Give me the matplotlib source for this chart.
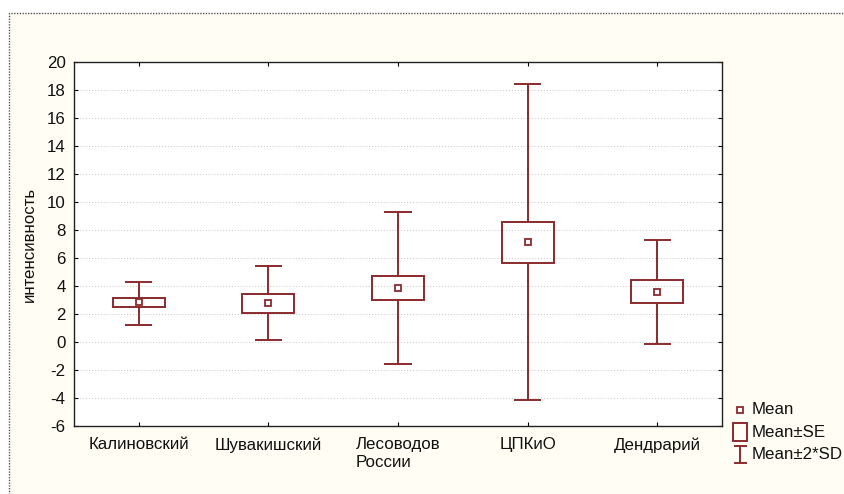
import matplotlib
matplotlib.use("Agg")
import matplotlib.pyplot as plt
from matplotlib.lines import Line2D
from matplotlib.patches import Rectangle

# -----------------------------
# Data
# -----------------------------

categories = ["Калиновский", "Шувакишский", "Лесоводов\nРоссии", "ЦПКиО", "Дендрарий"]
mean = [2.83, 2.78, 3.85, 7.13, 3.60]
se_low = [2.51, 2.10, 3.02, 5.63, 2.81]
se_high = [3.15, 3.40, 4.68, 8.60, 4.40]
sd_low = [1.25, 0.15, -1.58, -4.15, -0.11]
sd_high = [4.30, 5.40, 9.29, 18.41, 7.32]

y_ticks = list(range(-6, 21, 2))

# -----------------------------
# Style
# -----------------------------

plt.rcParams["font.family"] = ["Liberation Sans", "DejaVu Sans"]
plt.rcParams["axes.unicode_minus"] = False
box_color = "#8b2a2e"
bg_color = "#fffdf4"
text_color = "#111111"
fs = 12.2
W, H = 844, 494

fig = plt.figure(figsize=(W / 100, H / 100), dpi=100, facecolor="white")

# cream panel with dotted frame
frame = Rectangle((9 / W, -0.1), 1.2, 1 - 13 / H + 0.1, transform=fig.transFigure,
                  facecolor=bg_color, edgecolor="#555555", linestyle=(0, (1, 1)),
                  linewidth=1.0, zorder=-10)
fig.patches.append(frame)

ax = fig.add_axes([74 / W, 1 - 426 / H, (722 - 74) / W, (426 - 62) / H])
ax.set_facecolor("white")

x = list(range(len(categories)))

# -----------------------------
# Boxes, whiskers, means
# -----------------------------

ax.bar(x, [h - l for h, l in zip(se_high, se_low)], bottom=se_low, width=0.40,
       fill=False, edgecolor=box_color, linewidth=1.4, zorder=3)
ax.vlines(x, sd_low, se_low, color=box_color, linewidth=1.4, zorder=3)
ax.vlines(x, se_high, sd_high, color=box_color, linewidth=1.4, zorder=3)
cap = 0.105
ax.hlines(sd_low, [i - cap for i in x], [i + cap for i in x], color=box_color, linewidth=1.4, zorder=3)
ax.hlines(sd_high, [i - cap for i in x], [i + cap for i in x], color=box_color, linewidth=1.4, zorder=3)
ax.plot(x, mean, linestyle="none", marker="s", markersize=5, markerfacecolor="white",
        markeredgecolor=box_color, markeredgewidth=1.3, zorder=4)

# -----------------------------
# Axes
# -----------------------------

ax.set_xlim(-0.5, len(categories) - 0.5)
ax.set_ylim(-6, 20)
ax.set_yticks(y_ticks)
ax.set_xticks(x)
ax.set_xticklabels(categories, fontsize=fs, multialignment="left", color=text_color)
ax.tick_params(axis="y", labelsize=fs, labelcolor=text_color, direction="in", length=3, right=True, pad=6)
ax.tick_params(axis="x", direction="in", length=3, top=True, pad=8)
for s in ax.spines.values():
    s.set_color("#222222")
    s.set_linewidth(1.0)

for yv in y_ticks[1:-1]:
    ax.axhline(yv, color="#c4c4c4", linewidth=0.7, linestyle=(0, (1, 2)), zorder=1)

fig.text(29 / W, 1 - 244 / H, "интенсивность", rotation=90, fontsize=fs,
         ha="center", va="center", color=text_color)

# -----------------------------
# Legend (drawn by hand, STATISTICA style)
# -----------------------------

def fx(px):
    return px / W

def fy(py):
    return 1 - py / H

fig.add_artist(Line2D([fx(740)], [fy(410)], marker="s", markersize=5, markerfacecolor="white",
                      markeredgecolor=box_color, markeredgewidth=1.3, transform=fig.transFigure))
fig.add_artist(Rectangle((fx(733), fy(441)), fx(747) - fx(733), fy(423) - fy(441),
                         fill=False, edgecolor=box_color, linewidth=1.4, transform=fig.transFigure))
fig.add_artist(Line2D([fx(740), fx(740)], [fy(446), fy(463)], color=box_color, linewidth=1.4,
                      transform=fig.transFigure))
fig.add_artist(Line2D([fx(735), fx(746)], [fy(446), fy(446)], color=box_color, linewidth=1.4,
                      transform=fig.transFigure))
fig.add_artist(Line2D([fx(735), fx(746)], [fy(463), fy(463)], color=box_color, linewidth=1.4,
                      transform=fig.transFigure))

for label, py in [("Mean", 410), ("Mean±SE", 432), ("Mean±2*SD", 454)]:
    fig.text(fx(752), fy(py), label, fontsize=fs, ha="left", va="center", color=text_color)

fig.savefig("out.png", dpi=100, facecolor=fig.get_facecolor())
plt.close(fig)
